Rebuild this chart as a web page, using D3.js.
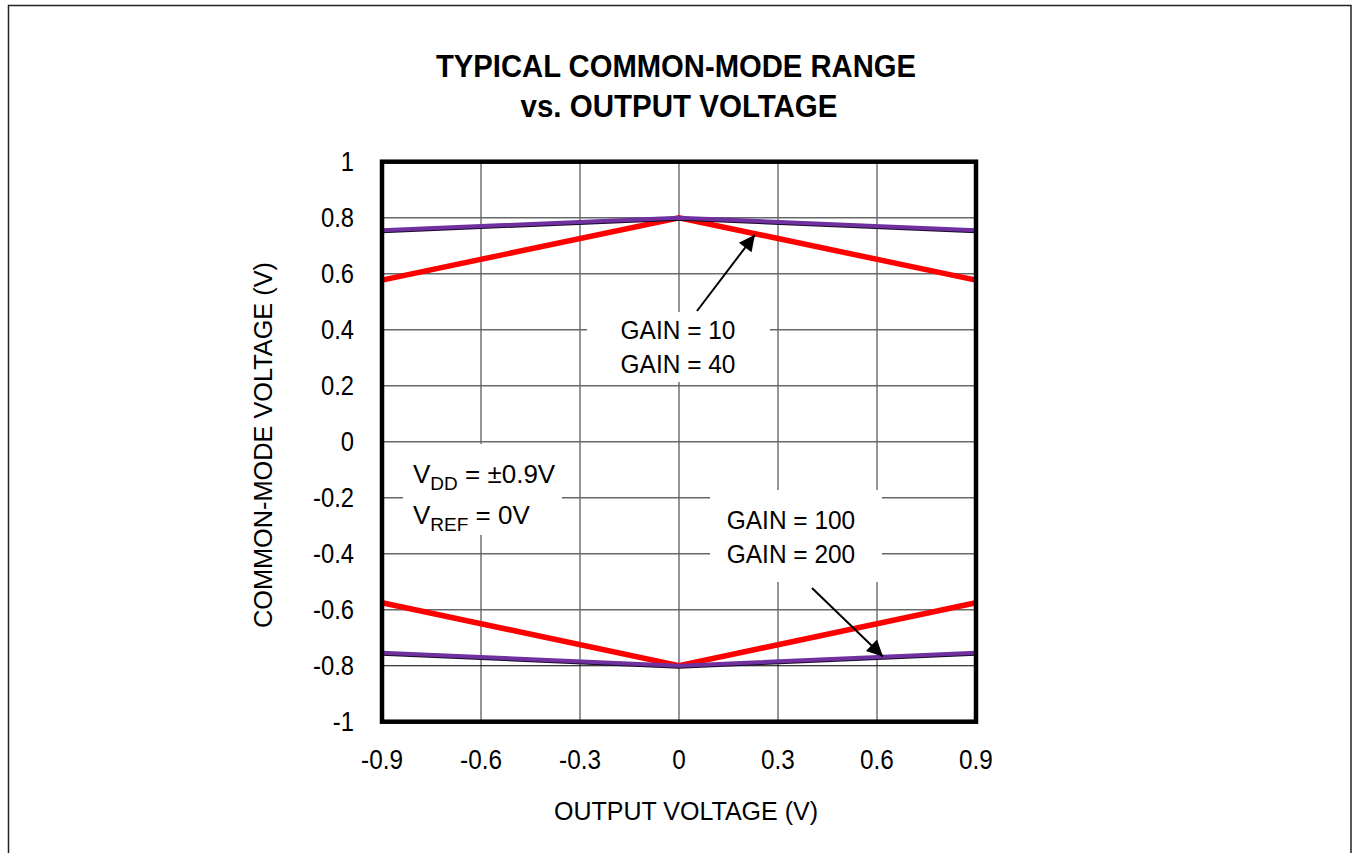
<!DOCTYPE html>
<html><head><meta charset="utf-8">
<script src="https://cdn.jsdelivr.net/npm/d3@7"></script>
<style>
html,body{margin:0;padding:0;background:#fff;}
text{font-family:"Liberation Sans",Arial,Helvetica,sans-serif;fill:#000;}
</style></head>
<body>
<svg id="chart" width="1353" height="853"></svg>
<script>
// ---- data ----
const xValues = [-0.9, 0, 0.9];
const redUpper = [0.577, 0.8, 0.577];
const redLower = [-0.575, -0.8, -0.575];
const purpleUpper = [0.755, 0.8, 0.755];
const purpleLower = [-0.754, -0.8, -0.754];
const xTicks = [-0.9, -0.6, -0.3, 0, 0.3, 0.6, 0.9];
const xTickLabels = ["-0.9", "-0.6", "-0.3", "0", "0.3", "0.6", "0.9"];
const yTicks = [1, 0.8, 0.6, 0.4, 0.2, 0, -0.2, -0.4, -0.6, -0.8, -1];
const yTickLabels = ["1", "0.8", "0.6", "0.4", "0.2", "0", "-0.2", "-0.4", "-0.6", "-0.8", "-1"];
const titleLines = ["TYPICAL COMMON-MODE RANGE", "vs. OUTPUT VOLTAGE"];
const xTitle = "OUTPUT VOLTAGE (V)";
const yTitle = "COMMON-MODE VOLTAGE (V)";

const svg = d3.select("#chart");
const L = 382, R = 976, T = 161.7, B = 721.7;
const x = d3.scaleLinear().domain([-0.9, 0.9]).range([L, R]);
const y = d3.scaleLinear().domain([-1, 1]).range([B, T]);

function condense(sel, f) {
  sel.each(function () {
    const w = this.getComputedTextLength();
    d3.select(this).attr("textLength", w * f).attr("lengthAdjust", "spacingAndGlyphs");
  });
}

// outer frame
svg.append("rect").attr("x", 8.5).attr("y", 5.5).attr("width", 1342.5).attr("height", 900)
  .attr("fill", "none").attr("stroke", "#222").attr("stroke-width", 1.5);

// title
svg.append("text").attr("x", 676).attr("y", 77).attr("text-anchor", "middle")
  .attr("font-size", 32).attr("font-weight", "bold")
  .attr("textLength", 480).attr("lengthAdjust", "spacingAndGlyphs").text(titleLines[0]);
svg.append("text").attr("x", 679).attr("y", 117).attr("text-anchor", "middle")
  .attr("font-size", 32).attr("font-weight", "bold")
  .attr("textLength", 317).attr("lengthAdjust", "spacingAndGlyphs").text(titleLines[1]);

// grid
const grid = svg.append("g");
grid.selectAll("line.v").data(xTicks).join("line").attr("class", "v")
  .attr("x1", d => x(d)).attr("x2", d => x(d)).attr("y1", T).attr("y2", B)
  .attr("stroke", "#686868").attr("stroke-width", 1.4);
grid.selectAll("line.h").data(yTicks).join("line").attr("class", "h")
  .attr("x1", L).attr("x2", R).attr("y1", d => y(d)).attr("y2", d => y(d))
  .attr("stroke", d => d === -0.8 ? "#000" : "#686868").attr("stroke-width", d => d === -0.8 ? 1.1 : 1.4);

// white label boxes
const boxes = [[403, 444, 159, 91], [587, 312, 183, 70], [710, 490, 172, 92]];
svg.selectAll("rect.box").data(boxes).join("rect").attr("class", "box")
  .attr("x", d => d[0]).attr("y", d => d[1]).attr("width", d => d[2]).attr("height", d => d[3])
  .attr("fill", "#fff");

// lines
const line = d3.line().x((d, i) => x(xValues[i])).y(d => y(d));
[redUpper, redLower].forEach(s => {
  svg.append("path").attr("d", line(s)).attr("fill", "none")
    .attr("stroke", "#ff0000").attr("stroke-width", 5.5);
});
[purpleUpper, purpleLower].forEach(s => {
  svg.append("path").attr("d", line(s)).attr("fill", "none")
    .attr("stroke", "#1a0a26").attr("stroke-width", 4).attr("transform", "translate(0,1)");
  svg.append("path").attr("d", line(s)).attr("fill", "none")
    .attr("stroke", "#7030a0").attr("stroke-width", 4);
});

// plot frame
svg.append("rect").attr("x", L).attr("y", T).attr("width", R - L).attr("height", B - T)
  .attr("fill", "none").attr("stroke", "#000").attr("stroke-width", 4.5);

// tick labels
svg.selectAll("text.yt").data(yTicks).join("text").attr("class", "yt")
  .attr("x", 354).attr("y", d => y(d) + 9.5).attr("text-anchor", "end")
  .attr("font-size", 27).text((d, i) => yTickLabels[i]).call(condense, 0.88);
svg.selectAll("text.xt").data(xTicks).join("text").attr("class", "xt")
  .attr("x", d => x(d)).attr("y", 769).attr("text-anchor", "middle")
  .attr("font-size", 27).text((d, i) => xTickLabels[i]).call(condense, 0.9);

// axis titles
svg.append("text").attr("x", 686).attr("y", 820).attr("text-anchor", "middle")
  .attr("font-size", 26).attr("textLength", 264).attr("lengthAdjust", "spacingAndGlyphs").text(xTitle);
svg.append("text").attr("transform", "translate(272,445) rotate(-90)").attr("text-anchor", "middle")
  .attr("font-size", 26).attr("textLength", 366).attr("lengthAdjust", "spacingAndGlyphs").text(yTitle);

// annotations
const defs = svg.append("defs");
defs.append("marker").attr("id", "ah").attr("viewBox", "0 0 10 10")
  .attr("refX", 10).attr("refY", 5)
  .attr("markerUnits", "userSpaceOnUse").attr("orient", "auto")
  .attr("markerWidth", 22).attr("markerHeight", 16)
  .append("path").attr("d", "M0,0 L10,5 L0,10 Z").attr("fill", "#000");

svg.append("line").attr("x1", 697).attr("y1", 311).attr("x2", x(0.23)).attr("y2", y(0.739))
  .attr("stroke", "#000").attr("stroke-width", 2).attr("marker-end", "url(#ah)");
svg.append("line").attr("x1", 812).attr("y1", 588).attr("x2", x(0.618)).attr("y2", y(-0.767))
  .attr("stroke", "#000").attr("stroke-width", 2).attr("marker-end", "url(#ah)");

const gl = [["GAIN = 10", 678, 339], ["GAIN = 40", 678, 373], ["GAIN = 100", 791, 529], ["GAIN = 200", 791, 563]];
svg.selectAll("text.gain").data(gl).join("text").attr("class", "gain")
  .attr("x", d => d[1]).attr("y", d => d[2]).attr("text-anchor", "middle")
  .attr("font-size", 26).text(d => d[0]).call(condense, 0.94);

const t1 = svg.append("text").attr("x", 413).attr("y", 483).attr("font-size", 26);
t1.append("tspan").text("V");
t1.append("tspan").attr("font-size", 19).attr("dy", 7).text("DD");
t1.append("tspan").attr("dy", -7).text(" = \u00B10.9V");
const t2 = svg.append("text").attr("x", 413).attr("y", 524).attr("font-size", 26);
t2.append("tspan").text("V");
t2.append("tspan").attr("font-size", 19).attr("dy", 7).text("REF");
t2.append("tspan").attr("dy", -7).text(" = 0V");
</script>
</body></html>
